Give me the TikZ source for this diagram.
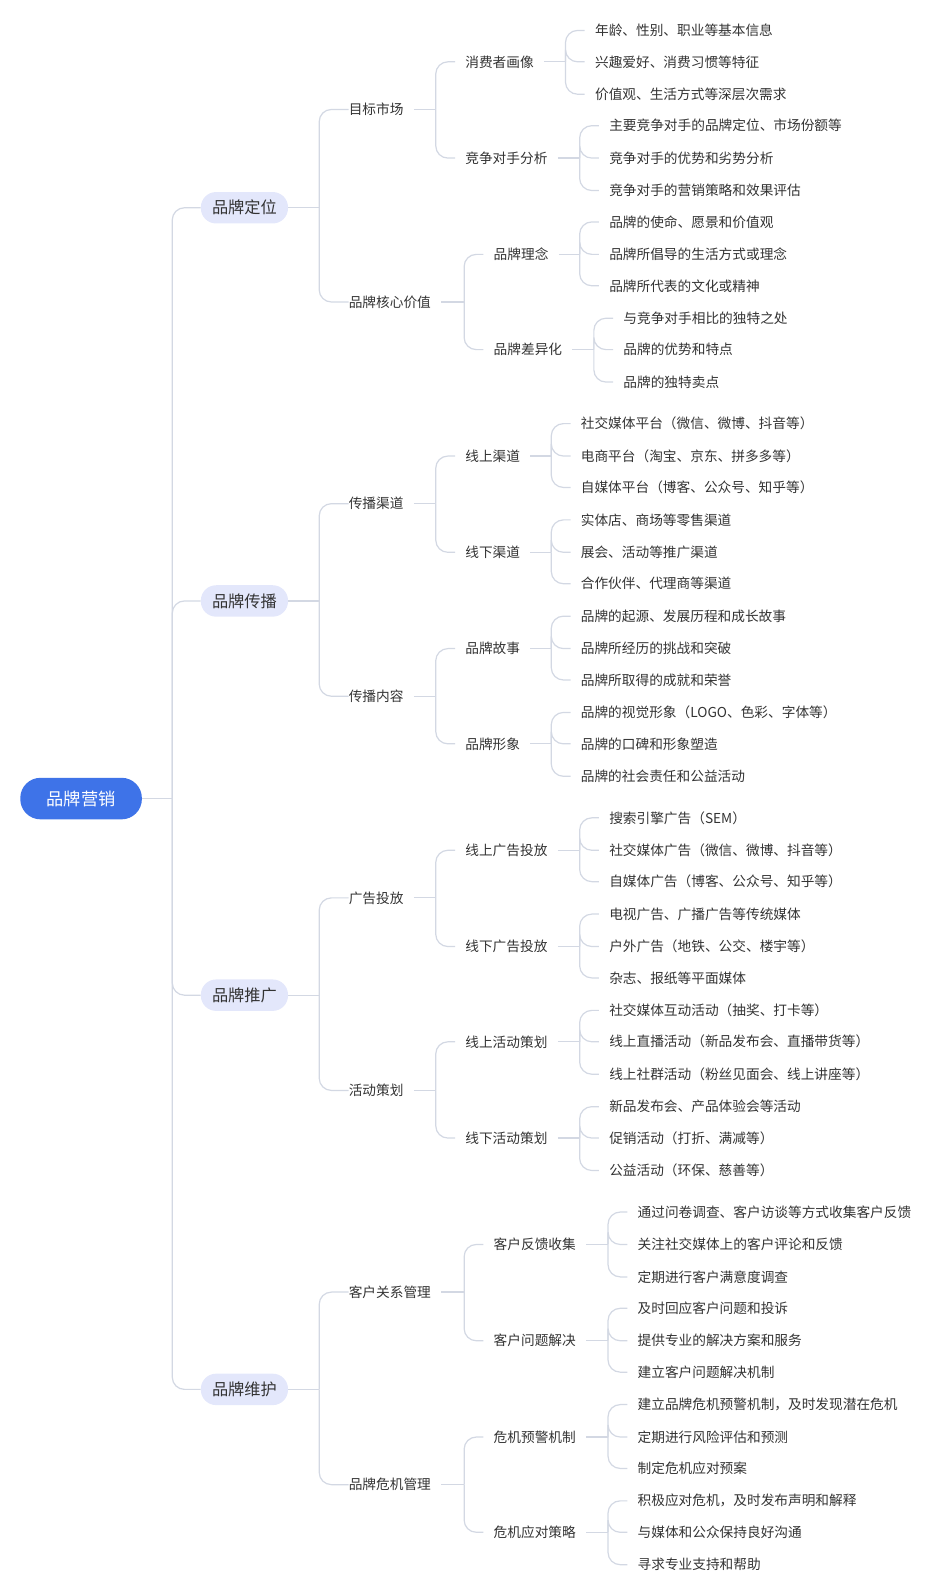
\documentclass[tikz,border=0pt]{standalone}
\usepackage{fontspec}
\setmainfont{Noto Sans CJK SC}
\definecolor{lineC}{HTML}{D3D8E3}
\definecolor{txtC}{HTML}{333333}
\definecolor{l1C}{HTML}{E3E7FB}
\definecolor{rootC}{HTML}{3E73E8}
\newcommand\br[4]{%
  \coordinate (#2v) at (#3,0);
  \draw[conn] ([xshift=#1]#2.east) -- (#2v |- #2.east);
  \foreach \c in {#4}{\draw[conn,rounded corners=12pt] (#2v |- #2.east) |- ([xshift=-#1]\c.west);}}
\begin{document}
\begin{tikzpicture}[x=1pt,y=-1pt,
  conn/.style={draw=lineC,line width=1.2pt},
  leaf/.style={anchor=west,inner xsep=0pt,inner ysep=2pt,font=\fontsize{13.5}{15}\selectfont,text=txtC},
  l1/.style={rounded corners=15pt,fill=l1C,minimum width=86pt,minimum height=31pt,inner sep=0pt,font=\fontsize{16}{18}\selectfont,text=txtC,anchor=west},
  root/.style={rounded corners=20pt,fill=rootC,minimum width=120pt,minimum height=41pt,inner sep=0pt,font=\fontsize{17}{19}\selectfont,text=white}]
\node[root] (r) at (80,788) {品牌营销};
\node[l1] (a) at (198,205) {品牌定位};
\node[l1] (b) at (198,593) {品牌传播};
\node[l1] (c) at (198,982) {品牌推广};
\node[l1] (d) at (198,1371) {品牌维护};
% level2
\node[leaf] (a1) at (344,108) {目标市场};
\node[leaf] (a2) at (344,298) {品牌核心价值};
\node[leaf] (b1) at (344,497) {传播渠道};
\node[leaf] (b2) at (344,687) {传播内容};
\node[leaf] (c1) at (344,886) {广告投放};
\node[leaf] (c2) at (344,1076) {活动策划};
\node[leaf] (d1) at (344,1275) {客户关系管理};
\node[leaf] (d2) at (344,1465) {品牌危机管理};
% level3
\node[leaf] (a11) at (459,61) {消费者画像};
\node[leaf] (a12) at (459,156) {竞争对手分析};
\node[leaf] (a21) at (487,251) {品牌理念};
\node[leaf] (a22) at (487,345) {品牌差异化};
\node[leaf] (b11) at (459,450) {线上渠道};
\node[leaf] (b12) at (459,545) {线下渠道};
\node[leaf] (b21) at (459,640) {品牌故事};
\node[leaf] (b22) at (459,734) {品牌形象};
\node[leaf] (c11) at (459,839) {线上广告投放};
\node[leaf] (c12) at (459,934) {线下广告投放};
\node[leaf] (c21) at (459,1028) {线上活动策划};
\node[leaf] (c22) at (459,1123) {线下活动策划};
\node[leaf] (d11) at (487,1228) {客户反馈收集};
\node[leaf] (d12) at (487,1323) {客户问题解决};
\node[leaf] (d21) at (487,1418) {危机预警机制};
\node[leaf] (d22) at (487,1512) {危机应对策略};
% leaves
\node[leaf] (x1) at (587,30) {年龄、性别、职业等基本信息};
\node[leaf] (x2) at (587,61) {兴趣爱好、消费习惯等特征};
\node[leaf] (x3) at (587,93) {价值观、生活方式等深层次需求};
\node[leaf] (x4) at (601,124) {主要竞争对手的品牌定位、市场份额等};
\node[leaf] (x5) at (601,156) {竞争对手的优势和劣势分析};
\node[leaf] (x6) at (601,188) {竞争对手的营销策略和效果评估};
\node[leaf] (x7) at (601,219) {品牌的使命、愿景和价值观};
\node[leaf] (x8) at (601,251) {品牌所倡导的生活方式或理念};
\node[leaf] (x9) at (601,282) {品牌所代表的文化或精神};
\node[leaf] (x10) at (615,314) {与竞争对手相比的独特之处};
\node[leaf] (x11) at (615,345) {品牌的优势和特点};
\node[leaf] (x12) at (615,377) {品牌的独特卖点};
\node[leaf] (y1) at (573,418) {社交媒体平台（微信、微博、抖音等）};
\node[leaf] (y2) at (573,450) {电商平台（淘宝、京东、拼多多等）};
\node[leaf] (y3) at (573,481) {自媒体平台（博客、公众号、知乎等）};
\node[leaf] (y4) at (573,513) {实体店、商场等零售渠道};
\node[leaf] (y5) at (573,545) {展会、活动等推广渠道};
\node[leaf] (y6) at (573,576) {合作伙伴、代理商等渠道};
\node[leaf] (y7) at (573,608) {品牌的起源、发展历程和成长故事};
\node[leaf] (y8) at (573,640) {品牌所经历的挑战和突破};
\node[leaf] (y9) at (573,671) {品牌所取得的成就和荣誉};
\node[leaf] (y10) at (573,703) {品牌的视觉形象（LOGO、色彩、字体等）};
\node[leaf] (y11) at (573,734) {品牌的口碑和形象塑造};
\node[leaf] (y12) at (573,766) {品牌的社会责任和公益活动};
\node[leaf] (z1) at (601,807) {搜索引擎广告（SEM）};
\node[leaf] (z2) at (601,839) {社交媒体广告（微信、微博、抖音等）};
\node[leaf] (z3) at (601,870) {自媒体广告（博客、公众号、知乎等）};
\node[leaf] (z4) at (601,902) {电视广告、广播广告等传统媒体};
\node[leaf] (z5) at (601,934) {户外广告（地铁、公交、楼宇等）};
\node[leaf] (z6) at (601,965) {杂志、报纸等平面媒体};
\node[leaf] (z7) at (601,997) {社交媒体互动活动（抽奖、打卡等）};
\node[leaf] (z8) at (601,1028) {线上直播活动（新品发布会、直播带货等）};
\node[leaf] (z9) at (601,1060) {线上社群活动（粉丝见面会、线上讲座等）};
\node[leaf] (z10) at (601,1092) {新品发布会、产品体验会等活动};
\node[leaf] (z11) at (601,1123) {促销活动（打折、满减等）};
\node[leaf] (z12) at (601,1155) {公益活动（环保、慈善等）};
\node[leaf] (w1) at (629,1196) {通过问卷调查、客户访谈等方式收集客户反馈};
\node[leaf] (w2) at (629,1228) {关注社交媒体上的客户评论和反馈};
\node[leaf] (w3) at (629,1260) {定期进行客户满意度调查};
\node[leaf] (w4) at (629,1291) {及时回应客户问题和投诉};
\node[leaf] (w5) at (629,1323) {提供专业的解决方案和服务};
\node[leaf] (w6) at (629,1354) {建立客户问题解决机制};
\node[leaf] (w7) at (629,1386) {建立品牌危机预警机制，及时发现潜在危机};
\node[leaf] (w8) at (629,1418) {定期进行风险评估和预测};
\node[leaf] (w9) at (629,1449) {制定危机应对预案};
\node[leaf] (w10) at (629,1481) {积极应对危机，及时发布声明和解释};
\node[leaf] (w11) at (629,1512) {与媒体和公众保持良好沟通};
\node[leaf] (w12) at (629,1544) {寻求专业支持和帮助};
% connectors
\br{0pt}{r}{170}{a,b,c,d}
\br{0pt}{a}{315}{a1,a2}
\br{0pt}{b}{315}{b1,b2}
\br{0pt}{c}{315}{c1,c2}
\br{0pt}{d}{315}{d1,d2}
\br{10pt}{a1}{430}{a11,a12}
\br{10pt}{a2}{458}{a21,a22}
\br{10pt}{b1}{430}{b11,b12}
\br{10pt}{b2}{430}{b21,b22}
\br{10pt}{c1}{430}{c11,c12}
\br{10pt}{c2}{430}{c21,c22}
\br{10pt}{d1}{458}{d11,d12}
\br{10pt}{d2}{458}{d21,d22}
\br{10pt}{a11}{558}{x1,x2,x3}
\br{10pt}{a12}{572}{x4,x5,x6}
\br{10pt}{a21}{572}{x7,x8,x9}
\br{10pt}{a22}{586}{x10,x11,x12}
\br{10pt}{b11}{544}{y1,y2,y3}
\br{10pt}{b12}{544}{y4,y5,y6}
\br{10pt}{b21}{544}{y7,y8,y9}
\br{10pt}{b22}{544}{y10,y11,y12}
\br{10pt}{c11}{572}{z1,z2,z3}
\br{10pt}{c12}{572}{z4,z5,z6}
\br{10pt}{c21}{572}{z7,z8,z9}
\br{10pt}{c22}{572}{z10,z11,z12}
\br{10pt}{d11}{600}{w1,w2,w3}
\br{10pt}{d12}{600}{w4,w5,w6}
\br{10pt}{d21}{600}{w7,w8,w9}
\br{10pt}{d22}{600}{w10,w11,w12}
\pgfresetboundingbox
\path[use as bounding box] (0,0) rectangle (934.6,1567);
\end{tikzpicture}
\end{document}
